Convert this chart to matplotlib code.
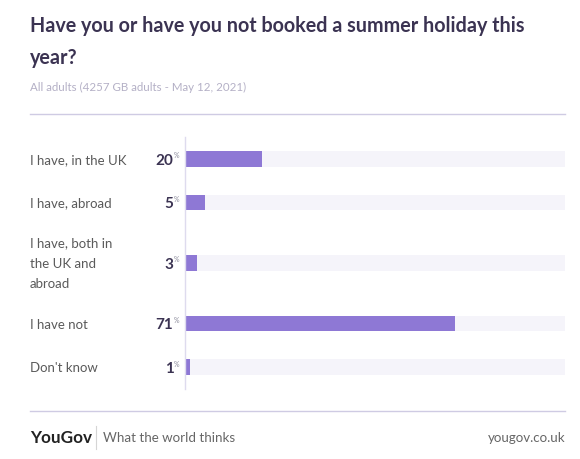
import numpy as np
import matplotlib.pyplot as plt

categories = ['I have, in the UK', 'I have, abroad', 'I have, both in\nthe UK and\nabroad',
              'I have not', "Don't know"]
values = [20, 5, 3, 71, 1]

title = 'Have you or have you not booked a summer holiday this\nyear?'
subtitle = 'All adults (4257 GB adults - May 12, 2021)'

W, H = 580, 460
plt.rcParams['font.family'] = ['Lato', 'DejaVu Sans']
fig = plt.figure(figsize=(W / 100, H / 100), dpi=100)

bar_c = '#8e78d5'
track_c = '#f5f4fa'
rule_c = '#cfcbe3'
dark = '#3b3352'
grey = '#5a5a5a'

def fx(px):
    return px / W

def fy(py):
    return 1 - py / H

# header
fig.text(fx(30), fy(42), title, fontsize=14.2, fontweight='bold', color=dark,
         va='center', ha='left', linespacing=1.72)
fig.text(fx(30), fy(87), subtitle, fontsize=8.3, color='#b4b0c6', va='center')
fig.add_artist(plt.Line2D([fx(30), fx(565)], [fy(115), fy(115)], color=rule_c, lw=1))

# row layout: taller rows for wrapped labels
nlines = np.array([c.count('\n') + 1 for c in categories])
rows = 44 + 17 * (nlines - 1)
centers = np.cumsum(rows) - rows / 2

ax = fig.add_axes([fx(186), fy(390), fx(565) - fx(186), fy(138) - fy(390)])
ax.set_xlim(0, 100)
ax.set_ylim(rows.sum(), 0)
ax.barh(centers, [100] * len(values), height=16, color=track_c, zorder=1)
ax.barh(centers, values, height=16, color=bar_c, zorder=2)
ax.axis('off')
fig.add_artist(plt.Line2D([fx(185), fx(185)], [fy(138), fy(390)], color='#dedbee', lw=1))

for y, cat, v in zip(centers, categories, values):
    ax.annotate(cat, (0, y), xycoords=('figure fraction', 'data'), xytext=(fx(30), 0),
                textcoords=('figure fraction', 'offset points'), va='center', ha='left',
                fontsize=9.5, color=grey, linespacing=1.85)
    ax.annotate(str(v), (0, y), xytext=(-9, -0.5), textcoords='offset points',
                va='center', ha='right', fontsize=11, fontweight='bold', color=dark)
    ax.annotate('%', (0, y), xytext=(-9, 3), textcoords='offset points',
                va='center', ha='left', fontsize=5, color='#8a8a9a')

# footer
fig.add_artist(plt.Line2D([fx(30), fx(565)], [fy(412), fy(412)], color=rule_c, lw=1))
fig.text(fx(30), fy(438), 'YouGov', fontsize=12.3, fontweight='bold', color='#222222', va='center')
fig.add_artist(plt.Line2D([fx(96), fx(96)], [fy(427), fy(450)], color='#d5d5d5', lw=0.8))
fig.text(fx(103), fy(438), 'What the world thinks', fontsize=9.6, color='#666666', va='center')
fig.text(fx(565), fy(438), 'yougov.co.uk', fontsize=9.6, color='#666666', va='center', ha='right')

fig.savefig('out.png', dpi=100)
